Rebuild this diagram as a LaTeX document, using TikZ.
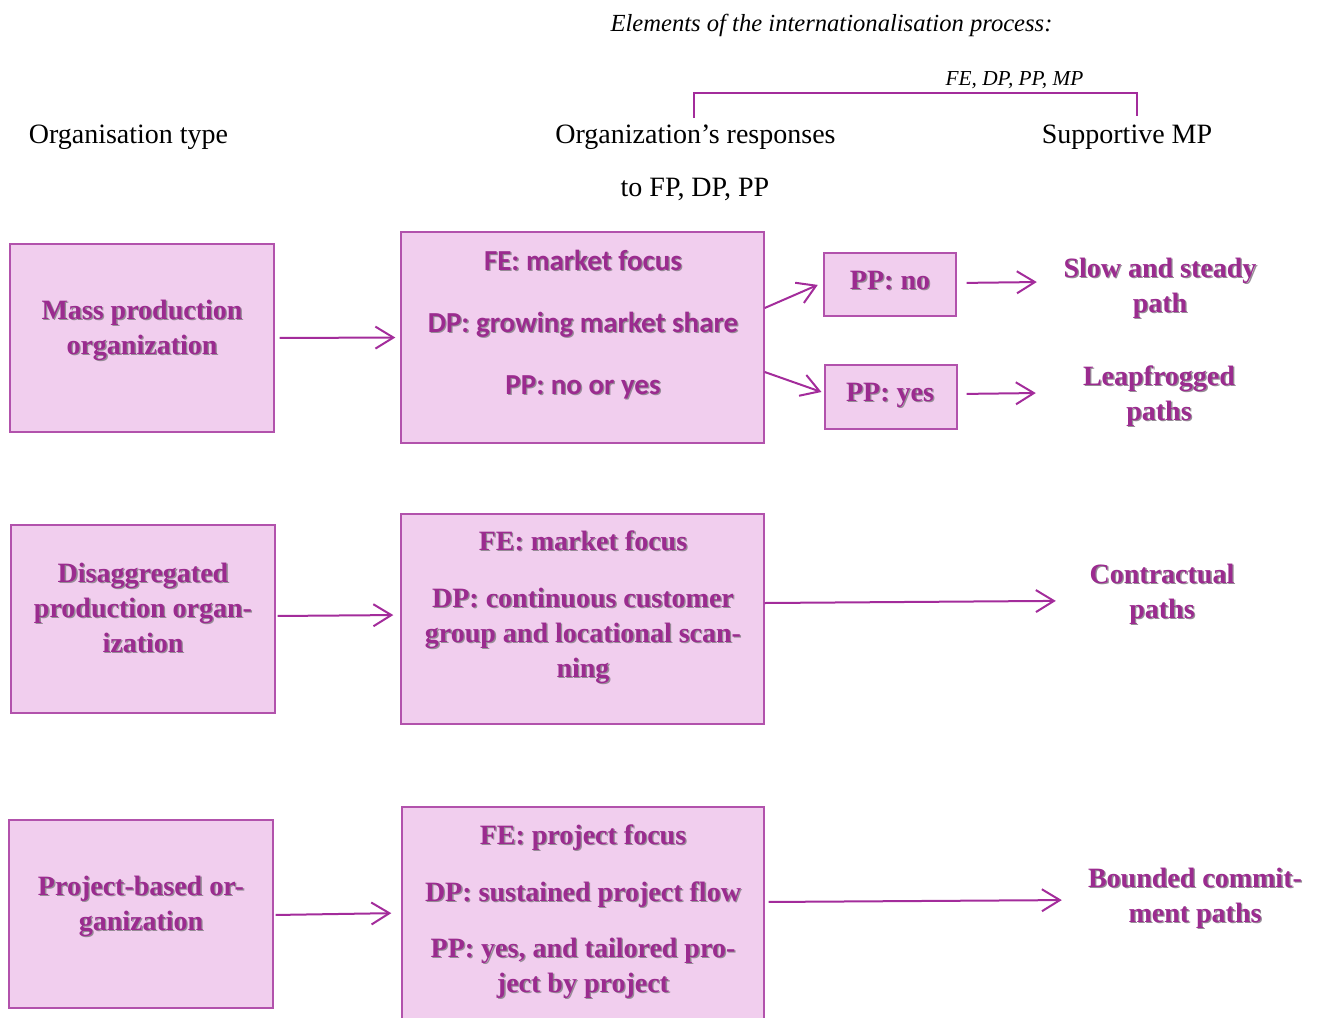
\documentclass[tikz,border=0pt]{standalone}
\usepackage{fontspec}
\setmainfont{Liberation Serif}
\newfontfamily\calfont{Carlito}
\usetikzlibrary{arrows.meta}

\definecolor{textc}{RGB}{155,43,143}
\definecolor{fillc}{RGB}{241,206,238}
\definecolor{edgec}{RGB}{178,82,172}
\definecolor{linec}{RGB}{163,44,155}
\definecolor{shadowc}{RGB}{150,140,150}

% one line of bold label text with a soft grey drop shadow
\newcommand\shd[1]{\strut\makebox[0pt][l]{\hspace*{1.3pt}\raisebox{-1.3pt}{\color{shadowc}#1}}#1}

\tikzset{
  box/.style={draw=edgec, fill=fillc, line width=1.4pt, inner sep=0pt},
  lbl/.style={text=textc, align=center, inner sep=0pt,
              font=\bfseries\fontsize{28}{35}\selectfont},
  lblsans/.style={lbl, font=\calfont\bfseries\fontsize{29}{35}\selectfont},
  outcome/.style={lbl, align=flush center, text width=240pt},
  plain/.style={inner sep=0pt, anchor=base, font=\fontsize{28}{34}\selectfont},
  conn/.style={draw=linec, line width=2pt,
               -{Straight Barb[length=18pt,width=22pt]}}
}

\begin{document}
\begin{tikzpicture}[x=1pt,y=-1pt]
\useasboundingbox (0,0) rectangle (1322,1017);
\clip (0,0) rectangle (1322,1017);

% column headings
\node[plain, font=\itshape\fontsize{24.6}{30}\selectfont] (elements) at (831.5,31)
  {Elements of the internationalisation process:};
\node[plain, font=\itshape\fontsize{21.3}{26}\selectfont] (elemlist) at (1014.5,85)
  {FE, DP, PP, MP};
\node[plain] (orgtype) at (128.5,143) {Organisation type};
\node[plain] (responses) at (695.5,143) {Organization’s responses};
\node[plain] (toFP) at (695,196) {to FP, DP, PP};
\node[plain] (supportive) at (1127,143) {Supportive MP};

% bracket spanning the process elements
\coordinate (brL) at (694,118);
\coordinate (brR) at (1137,116);
\draw[linec, line width=2pt] (brL) -- (694,93) -- (1137,93) -- (brR);

% organisation types
\node[box, minimum width=264pt, minimum height=188pt] (org1) at (142,338) {};
\node[box, minimum width=264pt, minimum height=188pt] (org2) at (143,619) {};
\node[box, minimum width=264pt, minimum height=188pt] (org3) at (141,914) {};
\node[lbl] (org1t) at (142,329.5) {\shd{Mass production}\\\shd{organization}};
\node[lbl] (org2t) at (143,610.5) {\shd{Disaggregated}\\\shd{production organ-}\\\shd{ization}};
\node[lbl] (org3t) at (141,905.5) {\shd{Project-based or-}\\\shd{ganization}};

% responses
\node[box, minimum width=363pt, minimum height=211pt] (resp1) at (582.5,337.5) {};
\node[box, minimum width=363pt, minimum height=210pt] (resp2) at (582.5,619) {};
\node[box, minimum width=362pt, minimum height=220pt] (resp3) at (583,917) {};
\node[lblsans] (resp1t) at (583,325)
  {\shd{FE: market focus}\\[27pt]\shd{DP: growing market share}\\[27pt]\shd{PP: no or yes}};
\node[lbl] (resp2t) at (583,606.5)
  {\shd{FE: market focus}\\[22pt]\shd{DP: continuous customer}\\\shd{group and locational scan-}\\\shd{ning}};
\node[lbl] (resp3t) at (583,911)
  {\shd{FE: project focus}\\[22pt]\shd{DP: sustained project flow}\\[21pt]\shd{PP: yes, and tailored pro-}\\\shd{ject by project}};

% pricing branches
\node[box, minimum width=132pt, minimum height=63pt] (ppno) at (890,284.5) {};
\node[box, minimum width=132pt, minimum height=64pt] (ppyes) at (891,397) {};
\node[lbl] (ppnot) at (890,282) {\shd{PP: no}};
\node[lbl] (ppyest) at (890,394) {\shd{PP: yes}};

% supportive paths
\node[outcome] (slow) at (1160,287.5) {\shd{Slow and steady}\\\shd{path}};
\node[outcome] (leap) at (1159,396) {\shd{Leapfrogged}\\\shd{paths}};
\node[outcome] (contract) at (1162,593.5) {\shd{Contractual}\\\shd{paths}};
\node[outcome] (bounded) at (1195,898) {\shd{Bounded commit-}\\\shd{ment paths}};

% connectors
\draw[conn, shorten <=5pt, shorten >=5pt] (org1.east) -- (resp1.west);
\draw[conn, shorten <=2pt, shorten >=7pt] ([yshift=3pt]org2.east) -- ([yshift=4pt]resp2.west);
\draw[conn, shorten <=2pt, shorten >=10pt] ([yshift=-1pt]org3.east) -- ([yshift=4pt]resp3.west);

\draw[conn, shorten >=6pt] ([yshift=29.5pt]resp1.east) -- ([yshift=2pt]ppno.west);
\draw[conn, shorten >=3pt] ([yshift=-34.5pt]resp1.east) -- ([yshift=4pt]ppyes.west);

\draw[conn, shorten <=10pt, shorten >=3pt] ([yshift=1.5pt]ppno.east) -- ([yshift=5.5pt]slow.west);
\draw[conn, shorten <=9pt, shorten >=3pt] ([yshift=3pt]ppyes.east) -- ([yshift=3pt]leap.west);
\draw[conn, shorten >=-14pt] ([yshift=16pt]resp2.east) -- ([yshift=-7.5pt]contract.west);
\draw[conn, shorten <=4pt, shorten >=13pt] ([yshift=15pt]resp3.east) -- ([yshift=-2pt]bounded.west);
\end{tikzpicture}
\end{document}
